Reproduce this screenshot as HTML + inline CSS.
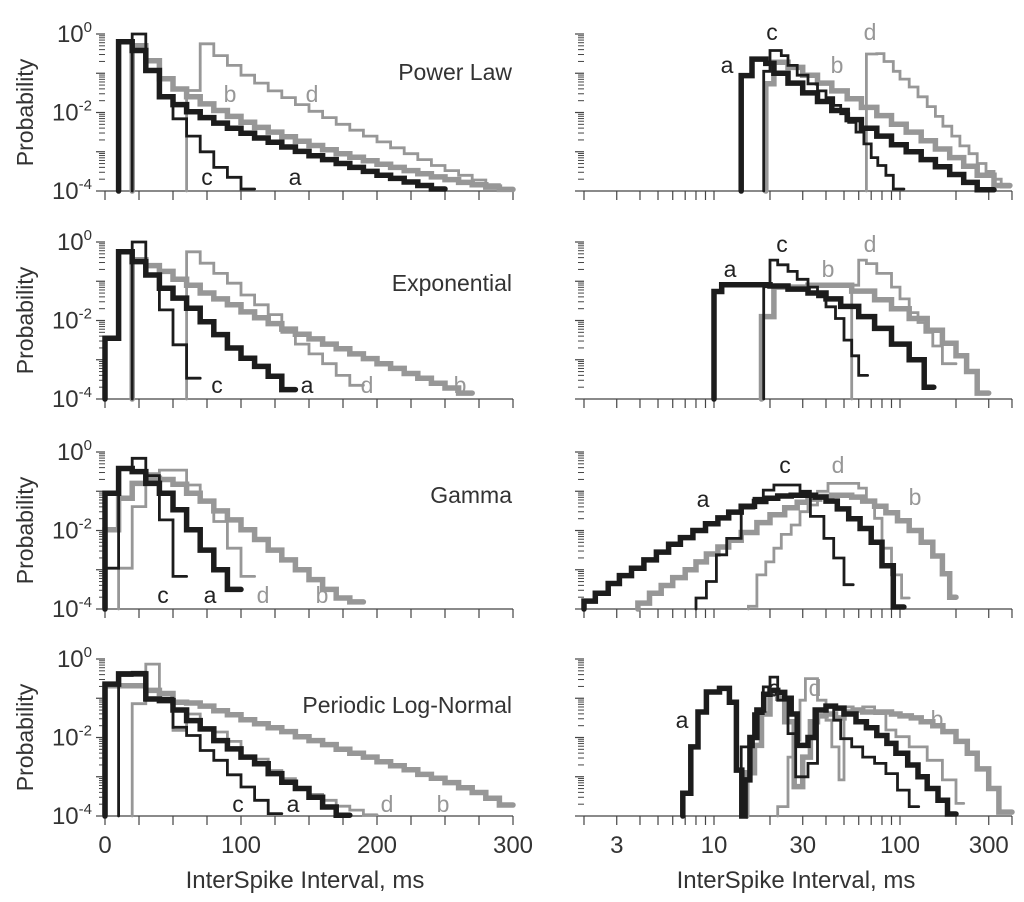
<!DOCTYPE html>
<html><head><meta charset="utf-8"><style>
html,body{margin:0;padding:0;background:#fff;}
svg{display:block;font-family:"Liberation Sans",Arial,sans-serif;}
</style></head><body>
<svg id="fig" width="1024" height="902" viewBox="0 0 1024 902" xmlns="http://www.w3.org/2000/svg"></svg>
<script>
// ---------- data: left panels (linear x, 10 ms bins): start ms + log10 probabilities ----------
const binWidth = 10;
const l1_a_start = 10, l1_a_vals = [-0.2,-0.42,-0.93,-1.6,-1.8,-1.98,-2.13,-2.27,-2.4,-2.53,-2.65,-2.76,-2.88,-2.99,-3.1,-3.2,-3.3,-3.4,-3.5,-3.6,-3.68,-3.77,-3.86,-3.95];
const l1_b_start = 20, l1_b_vals = [-0.3,-0.68,-1.14,-1.4,-1.6,-1.78,-1.95,-2.1,-2.25,-2.38,-2.5,-2.62,-2.73,-2.84,-2.95,-3.05,-3.14,-3.23,-3.32,-3.4,-3.48,-3.56,-3.64,-3.71,-3.78,-3.84,-3.9,-3.96];
const l1_c_start = 20, l1_c_vals = [0,-0.93,-1.6,-2.16,-2.6,-3.0,-3.4,-3.65,-3.95];
const l1_d_start = 60, l1_d_vals = [-1.44,-0.25,-0.55,-0.8,-1.05,-1.25,-1.45,-1.62,-1.8,-1.97,-2.13,-2.3,-2.45,-2.6,-2.75,-2.9,-3.05,-3.2,-3.35,-3.48,-3.6,-3.72,-3.84,-3.95];

const l2_a_start = 0, l2_a_vals = [-2.45,-0.25,-0.5,-0.84,-1.18,-1.43,-1.69,-2.03,-2.36,-2.7,-2.96,-3.17,-3.42,-3.76];
const l2_b_start = 20, l2_b_vals = [-0.45,-0.6,-0.75,-0.95,-1.1,-1.3,-1.45,-1.6,-1.78,-1.93,-2.08,-2.22,-2.35,-2.47,-2.6,-2.72,-2.85,-2.97,-3.1,-3.22,-3.35,-3.47,-3.6,-3.72,-3.85];
const l2_c_start = 20, l2_c_vals = [0,-0.84,-1.73,-2.62,-3.47];
const l2_d_start = 60, l2_d_vals = [-0.25,-0.54,-0.8,-1.05,-1.35,-1.6,-1.85,-2.3,-2.6,-2.85,-3.1,-3.4,-3.65];

const l3_a_start = 0, l3_a_vals = [-1.05,-0.42,-0.5,-0.8,-1.05,-1.47,-1.98,-2.5,-3.0,-3.5];
const l3_b_start = 0, l3_b_vals = [-1.98,-1.18,-0.8,-0.67,-0.7,-0.82,-1.05,-1.25,-1.5,-1.73,-1.98,-2.23,-2.5,-2.75,-3.0,-3.25,-3.5,-3.72,-3.82];
const l3_c_start = 0, l3_c_vals = [-2.96,-0.4,-0.16,-0.6,-1.73,-3.17];
const l3_d_start = 10, l3_d_vals = [-2.96,-1.39,-0.55,-0.46,-0.46,-0.84,-1.22,-1.77,-2.45,-3.17];

const l4_a_start = 0, l4_a_vals = [-0.64,-0.38,-0.38,-1.02,-1.06,-1.3,-1.57,-1.78,-2.08,-2.29,-2.5,-2.67,-2.92,-3.14,-3.3,-3.52,-3.77,-3.98];
const l4_b_start = 0, l4_b_vals = [-0.68,-0.68,-0.68,-0.8,-0.88,-1.1,-1.12,-1.2,-1.32,-1.42,-1.55,-1.65,-1.75,-1.85,-1.98,-2.08,-2.18,-2.3,-2.4,-2.5,-2.62,-2.72,-2.82,-2.94,-3.04,-3.15,-3.28,-3.4,-3.55,-3.72];
const l4_c_start = 10, l4_c_vals = [-0.42,-0.34,-1.0,-1.0,-1.74,-1.95,-2.33,-2.58,-2.95,-3.26,-3.6,-3.94];
const l4_d_start = 20, l4_d_vals = [-1.14,-0.13,-0.9,-1.82,-1.4,-1.82,-1.86,-2.1,-2.5,-2.55,-2.84,-3.05,-3.3,-3.45,-3.6,-3.75,-3.85,-3.97];

// ---------- data: right panels (log x): bin edges in ms + log10 probabilities ----------
const r1_a_edges = [14,16,19,21,25,30,36,43,52,62,75,90,108,130,155,185,220,260,320];
const r1_a_vals  = [-1.06,-0.64,-0.75,-1.0,-1.25,-1.5,-1.72,-1.95,-2.18,-2.4,-2.6,-2.82,-3.0,-3.2,-3.38,-3.58,-3.78,-3.97];
const r1_b_edges = [19,21,25,30,36,43,52,62,75,90,108,130,155,185,220,260,320,390];
const r1_b_vals  = [-1.27,-0.72,-0.85,-1.05,-1.25,-1.45,-1.65,-1.87,-2.08,-2.3,-2.5,-2.72,-2.93,-3.15,-3.37,-3.6,-3.86];
const r1_c_edges = [18.5,20,23,25,28,32,36,40,44,48,53,58,64,70,76,84,92,105];
const r1_c_vals  = [-0.95,-0.42,-0.55,-0.8,-1.05,-1.27,-1.45,-1.62,-1.82,-2.03,-2.25,-2.5,-2.8,-3.15,-3.35,-3.6,-3.95];
const r1_d_edges = [66,75,82,92,100,112,125,140,155,170,190,210,235,260,290,320,350,390];
const r1_d_vals  = [-0.51,-0.5,-0.7,-0.95,-1.15,-1.35,-1.6,-1.85,-2.1,-2.35,-2.6,-2.85,-3.05,-3.3,-3.5,-3.7,-3.9];

const r2_a_edges = [10,11,20,25,32,40,48,60,73,90,112,135,152];
const r2_a_vals  = [-1.26,-1.09,-1.12,-1.2,-1.3,-1.45,-1.64,-1.9,-2.2,-2.6,-3.0,-3.7];
const r2_b_edges = [18,21,32,55,73,90,112,140,169,200,228,260,300];
const r2_b_vals  = [-1.9,-1.15,-1.1,-1.25,-1.47,-1.7,-1.95,-2.25,-2.58,-2.9,-3.3,-3.85];
const r2_c_edges = [18.5,20,22,25,28,32,36,40,45,50,55,60,67];
const r2_c_vals  = [-1.14,-0.46,-0.58,-0.75,-0.95,-1.15,-1.4,-1.65,-1.95,-2.5,-2.9,-3.4];
const r2_d_edges = [55,60,66,75,90,100,112,125,136,150,169,200];
const r2_d_vals  = [-1.1,-0.46,-0.55,-0.8,-1.15,-1.45,-1.8,-2.05,-2.3,-2.65,-3.1];

const r3_a_edges = [2,2.3,2.7,3.1,3.6,4.2,4.9,5.7,6.6,7.7,9,10.5,12,14,16.5,19,22,26,30,35,40,46,53,61,70,80,92,105];
const r3_a_vals  = [-3.8,-3.6,-3.35,-3.15,-2.96,-2.75,-2.55,-2.35,-2.18,-2.0,-1.83,-1.68,-1.53,-1.38,-1.26,-1.18,-1.12,-1.1,-1.1,-1.15,-1.25,-1.45,-1.7,-1.95,-2.3,-2.9,-3.95];
const r3_b_edges = [3.9,4.5,5.2,6,7,8,9.1,10.5,12,14,17,20,24,28,32,37,43,48,55,63,73,84,97,112,130,150,169,185,200];
const r3_b_vals  = [-3.85,-3.6,-3.4,-3.2,-3.0,-2.8,-2.6,-2.42,-2.25,-2.05,-1.8,-1.6,-1.42,-1.28,-1.2,-1.13,-1.1,-1.1,-1.15,-1.25,-1.38,-1.55,-1.75,-2.0,-2.3,-2.65,-3.1,-3.7];
const r3_c_edges = [8,9.1,10.3,11.7,14,16.4,18.4,21,29,33,39,44,50,56];
const r3_c_vals  = [-3.72,-3.3,-2.62,-2.2,-1.43,-1.18,-0.97,-0.84,-1.0,-1.64,-2.2,-2.7,-3.38];
const r3_d_edges = [15.3,17,19,21,23,26,29,32,36,41,50,60,66,73,80,90,102,112];
const r3_d_vals  = [-3.93,-3.13,-2.8,-2.45,-2.1,-1.86,-1.52,-1.35,-1.0,-0.8,-0.8,-0.92,-1.26,-1.69,-2.45,-3.13,-3.72];

const r4_a_edges = [6.8,7.5,8.2,9.1,10.7,12.1,13.2,14.1,14.7,15.6,17,18.5,20,22,24,26,28,32,35,40,45,50,58,66,75,85,95,110,125,140,160,180,200];
const r4_a_vals  = [-3.42,-2.24,-1.35,-0.84,-0.75,-1.1,-2.83,-4,-3.08,-2.0,-1.3,-0.9,-0.8,-0.85,-1.0,-1.4,-2.2,-2.0,-1.3,-1.2,-1.25,-1.4,-1.6,-1.75,-1.95,-2.15,-2.4,-2.7,-3.0,-3.3,-3.6,-3.95];
const r4_b_edges = [15,16.5,18,20,22,24,27,30,33,36,40,45,50,56,63,71,80,90,100,115,130,150,170,200,230,260,300,340,400];
const r4_b_vals  = [-2.9,-2.2,-1.4,-0.9,-1.0,-1.6,-3.25,-2.5,-1.6,-1.45,-1.4,-1.5,-1.35,-1.3,-1.35,-1.35,-1.35,-1.4,-1.45,-1.5,-1.6,-1.7,-1.85,-2.1,-2.4,-2.8,-3.3,-3.9];
const r4_c_edges = [14,16.3,18.4,20,22,25,27.5,32,36,40,44,48,55,63,73,84,97,112,126];
const r4_c_vals  = [-2.24,-1.39,-0.71,-0.46,-1.05,-1.9,-3.0,-2.66,-1.3,-1.22,-1.56,-2.03,-2.24,-2.5,-2.66,-2.92,-3.34,-3.76];
const r4_d_edges = [22,25,27,29,31,36,40,43,47,50,56,63,73,84,95,112,140,169,200,220];
const r4_d_vals  = [-3.76,-2.5,-2.07,-1.05,-0.5,-1.05,-1.56,-2.24,-3.08,-1.22,-1.3,-1.22,-1.39,-1.81,-1.98,-2.24,-2.58,-3.08,-3.68];

// ---------- tick labels ----------
const leftTickValues = [0,100,200];
const leftTickLabels = ["0","100","200"];
const leftTickLast = 300;
const rightTickValues = [3,10,30,100,300];
const rightTickLabels = ["3","10","30","100","300"];
const yDecades = [0,-2,-4];
const panelTitles = ["Power Law","Exponential","Gamma","Periodic Log-Normal"];

// ---------- layout ----------
const NS = "http://www.w3.org/2000/svg";
const svg = document.getElementById("fig");
const rowBottoms = [191,399,609,816];
const PH = 157;
const BLACK = "#1c1c1c", GRAY = "#979797", AX = "#444", TXT = "#333";
function lx(ms){ return 105 + ms*1.36; }
function rx(ms){ return 714 + 186*Math.log10(ms/10); }
function yS(bottom){ return v => bottom - (Math.max(v,-4)+4)*(PH/4); }

function mk(tag, attrs, parent){
  const e = document.createElementNS(NS, tag);
  for (const k in attrs) e.setAttribute(k, attrs[k]);
  (parent||svg).appendChild(e);
  return e;
}

function drawSteps(edges, vals, xf, yf, bottom, color, w, name){
  let d = "M" + xf(edges[0]).toFixed(1) + " " + bottom;
  for (let i=0;i<vals.length;i++){
    const y = yf(vals[i]).toFixed(1);
    d += " L" + xf(edges[i]).toFixed(1) + " " + y + " L" + xf(edges[i+1]).toFixed(1) + " " + y;
  }
  const p = mk("path",{d:d, fill:"none", stroke:color, "stroke-width":w, "stroke-linejoin":"miter", "stroke-linecap":"round"});
  
  
}
function edgesFrom(start, vals){
  const e=[]; for(let i=0;i<=vals.length;i++) e.push(start+i*binWidth); return e;
}

const leftSeries = [
  [l1_a_start,l1_a_vals,l1_b_start,l1_b_vals,l1_c_start,l1_c_vals,l1_d_start,l1_d_vals],
  [l2_a_start,l2_a_vals,l2_b_start,l2_b_vals,l2_c_start,l2_c_vals,l2_d_start,l2_d_vals],
  [l3_a_start,l3_a_vals,l3_b_start,l3_b_vals,l3_c_start,l3_c_vals,l3_d_start,l3_d_vals],
  [l4_a_start,l4_a_vals,l4_b_start,l4_b_vals,l4_c_start,l4_c_vals,l4_d_start,l4_d_vals]
];
const rightSeries = [
  [r1_a_edges,r1_a_vals,r1_b_edges,r1_b_vals,r1_c_edges,r1_c_vals,r1_d_edges,r1_d_vals],
  [r2_a_edges,r2_a_vals,r2_b_edges,r2_b_vals,r2_c_edges,r2_c_vals,r2_d_edges,r2_d_vals],
  [r3_a_edges,r3_a_vals,r3_b_edges,r3_b_vals,r3_c_edges,r3_c_vals,r3_d_edges,r3_d_vals],
  [r4_a_edges,r4_a_vals,r4_b_edges,r4_b_vals,r4_c_edges,r4_c_vals,r4_d_edges,r4_d_vals]
];

// series letter label positions [x,y] for a,b,c,d per panel
const leftLetterPos = [
  [[295,185],[230,102],[207,185],[312,102]],
  [[307,393],[460,393],[217,393],[367,393]],
  [[210,603],[322,603],[163,603],[263,603]],
  [[293,812],[443,812],[238,812],[387,812]]
];
const rightLetterPos = [
  [[727,73],[837,73],[772,40],[870,40]],
  [[730,277],[828,277],[782,252],[870,252]],
  [[703,507],[915,505],[785,473],[838,473]],
  [[682,728],[937,727],[774,696],[815,696]]
];

function yAxis(x0, bottom, withLabels, r){
  const yf = yS(bottom);
  const g = mk("g",{});
  
  
  for (let dec=-4; dec<=0; dec++){
    const y = yf(dec);
    mk("line",{x1:x0-9,x2:x0,y1:y,y2:y,stroke:AX,"stroke-width":1.2},g);
    if (dec<0) for (let k=2;k<=9;k++){
      const yy = yf(dec+Math.log10(k));
      mk("line",{x1:x0-6,x2:x0,y1:yy,y2:yy,stroke:AX,"stroke-width":1},g);
    }
  }
  if (withLabels){
    yDecades.forEach(dec=>{
      const t = mk("text",{x:92,y:yf(dec)+8,"text-anchor":"end","font-size":24,fill:TXT},g);
      
      
      t.appendChild(document.createTextNode("10"));
      const s = mk("tspan",{dy:-10,"font-size":15},t);
      s.textContent = String(dec).replace("-","-");
    });
    const cy = bottom - PH/2;
    const pt = mk("text",{x:0,y:0,transform:"translate(33,"+cy+") rotate(-90)","text-anchor":"middle","font-size":23,fill:TXT},g);
    
    
    pt.textContent = "Probability";
  }
}

function letters(pos, r, side){
  const names=["a","b","c","d"], cols=[BLACK,GRAY,BLACK,GRAY];
  for (let i=0;i<4;i++){
    const t = mk("text",{x:pos[i][0],y:pos[i][1],"text-anchor":"middle","font-size":23,fill:cols[i]==BLACK?"#222":GRAY});
    
    
    t.textContent = names[i];
  }
}

for (let r=0;r<4;r++){
  const B = rowBottoms[r], yf = yS(B);
  // ----- left panel -----
  yAxis(105, B, true, 'left-'+(r+1));
  const xl = mk("g",{});
  
  
  mk("line",{x1:105,x2:lx(300),y1:B,y2:B,stroke:AX,"stroke-width":1.2},xl);
  for (let t=0;t<=300;t+=25) mk("line",{x1:lx(t),x2:lx(t),y1:B,y2:B+9,stroke:AX,"stroke-width":1.2},xl);
  const L = leftSeries[r];
  drawSteps(edgesFrom(L[2],L[3]),L[3],lx,yf,B,GRAY,5.5,'left-'+(r+1)+'-series-b');
  drawSteps(edgesFrom(L[6],L[7]),L[7],lx,yf,B,GRAY,2.8,'left-'+(r+1)+'-series-d');
  drawSteps(edgesFrom(L[0],L[1]),L[1],lx,yf,B,BLACK,5.5,'left-'+(r+1)+'-series-a');
  drawSteps(edgesFrom(L[4],L[5]),L[5],lx,yf,B,BLACK,2.8,'left-'+(r+1)+'-series-c');
  letters(leftLetterPos[r], r, 'left');
  const tt = mk("text",{x:512,y:[80,291,503,713][r],"text-anchor":"end","font-size":23,fill:TXT});
  
  
  tt.textContent = panelTitles[r];

  // ----- right panel -----
  yAxis(584, B, false, 'right-'+(r+1));
  const xr = mk("g",{});
  
  
  mk("line",{x1:rx(2),x2:rx(400),y1:B,y2:B,stroke:AX,"stroke-width":1.2},xr);
  [2,3,4,5,6,7,8,9,10,20,30,40,50,60,70,80,90,100,200,300,400].forEach(t=>{
    mk("line",{x1:rx(t),x2:rx(t),y1:B,y2:B+9,stroke:AX,"stroke-width":1.2},xr);
  });
  const R = rightSeries[r];
  drawSteps(R[2],R[3],rx,yf,B,GRAY,5.5,'right-'+(r+1)+'-series-b');
  drawSteps(R[6],R[7],rx,yf,B,GRAY,2.8,'right-'+(r+1)+'-series-d');
  drawSteps(R[0],R[1],rx,yf,B,BLACK,5.5,'right-'+(r+1)+'-series-a');
  drawSteps(R[4],R[5],rx,yf,B,BLACK,2.8,'right-'+(r+1)+'-series-c');
  letters(rightLetterPos[r], r, 'right');
}

// bottom tick labels and axis titles
const bl = rowBottoms[3];
leftTickValues.concat([leftTickLast]).forEach((v,i)=>{
  const t = mk("text",{x:lx(v),y:bl+37,"text-anchor":"middle","font-size":24,fill:TXT});
  
  
  t.textContent = i<leftTickLabels.length ? leftTickLabels[i] : String(leftTickLast);
});
rightTickValues.forEach((v,i)=>{
  const t = mk("text",{x:rx(v),y:bl+37,"text-anchor":"middle","font-size":24,fill:TXT});
  
  
  t.textContent = rightTickLabels[i];
});
[[305,'x-axis-title-left'],[796,'x-axis-title-right']].forEach(a=>{
  const t = mk("text",{x:a[0],y:bl+72,"text-anchor":"middle","font-size":24,fill:TXT});
  
  
  t.textContent = "InterSpike Interval, ms";
});
</script>
</body></html>
